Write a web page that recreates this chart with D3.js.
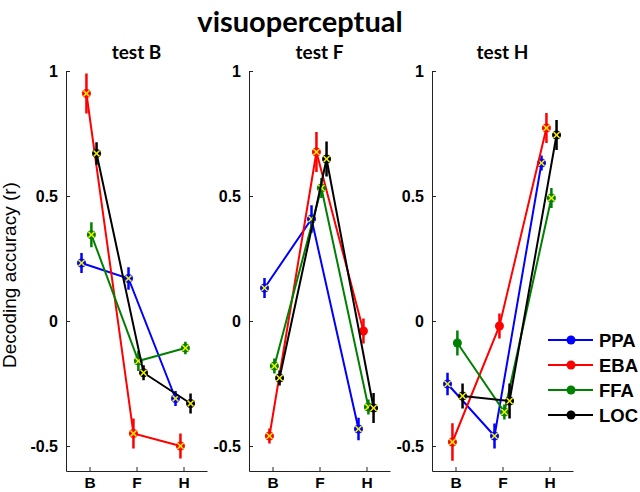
<!DOCTYPE html>
<html><head><meta charset="utf-8">
<script src="https://cdn.jsdelivr.net/npm/d3@7"></script>
<style>body{margin:0;background:#fff}</style>
</head><body><svg id="c" width="640" height="492"></svg>
<script>
const chartTitle = "visuoperceptual";
const yLabel = "Decoding accuracy (r)";
const conditions = ["B", "F", "H"];
const panelTitles = ["test B", "test F", "test H"];
const regions = ["PPA", "EBA", "FFA", "LOC"];
const yTicks = [-0.5, 0, 0.5, 1];

// rows: PPA, EBA, FFA, LOC ; columns: B, F, H
const meanTestB = [[0.232, 0.17, -0.31], [0.91, -0.45, -0.50], [0.345, -0.16, -0.108], [0.67, -0.207, -0.33]];
const errTestB  = [[0.04, 0.045, 0.03], [0.08, 0.06, 0.05], [0.05, 0.04, 0.025], [0.045, 0.03, 0.04]];
const sigTestB  = [[1, 1, 1], [1, 1, 1], [1, 1, 1], [1, 1, 1]];

const meanTestF = [[0.132, 0.408, -0.432], [-0.46, 0.676, -0.04], [-0.18, 0.532, -0.344], [-0.228, 0.648, -0.348]];
const errTestF  = [[0.04, 0.055, 0.045], [0.03, 0.08, 0.05], [0.03, 0.04, 0.03], [0.03, 0.07, 0.06]];
const sigTestF  = [[1, 1, 1], [1, 1, 0], [1, 1, 1], [1, 1, 1]];

const meanTestH = [[-0.252, -0.46, 0.632], [-0.484, -0.02, 0.772], [-0.088, -0.364, 0.492], [-0.30, -0.32, 0.744]];
const errTestH  = [[0.045, 0.05, 0.03], [0.075, 0.05, 0.06], [0.05, 0.03, 0.04], [0.05, 0.07, 0.06]];
const sigTestH  = [[1, 1, 1], [1, 0, 1], [0, 1, 1], [1, 1, 1]];

const means = [meanTestB, meanTestF, meanTestH];
const errs = [errTestB, errTestF, errTestH];
const sigs = [sigTestB, sigTestF, sigTestH];

const colors = ["#0000ff", "#ff0000", "#008000", "#000000"];
const jitter = [-0.17, -0.065, 0.04, 0.15];

const svg = d3.select("#c");
const tickFont = "'Liberation Sans', Arial, sans-serif";
const titleFont = "Lato, 'Open Sans', sans-serif";

svg.append("text").attr("x", 300).attr("y", 32).attr("text-anchor", "middle")
  .style("font-family", titleFont).style("font-weight", "bold").style("font-size", "29px")
  .text(chartTitle);

svg.append("text").attr("transform", "translate(16,275) rotate(-90)").attr("text-anchor", "middle")
  .style("font-family", tickFont).style("font-size", "19px").text(yLabel);

const y = d3.scaleLinear().domain([-0.6, 1]).range([471, 71]);
const panelLefts = [66, 249, 432];
const panelWidth = 141;

panelLefts.forEach((left, p) => {
  const x = d3.scaleLinear().domain([0.5, 3.5]).range([left, left + panelWidth]);
  const g = svg.append("g");

  g.append("text").attr("x", left + panelWidth / 2).attr("y", 59).attr("text-anchor", "middle")
    .style("font-family", titleFont).style("font-weight", "bold").style("font-size", "19px")
    .text(panelTitles[p]);

  const ya = g.append("g").attr("transform", `translate(${left},0)`)
    .call(d3.axisLeft(y).tickValues(yTicks).tickFormat(d => String(d)).tickSizeInner(-4).tickSizeOuter(0).tickPadding(8));
  const xa = g.append("g").attr("transform", `translate(0,471)`)
    .call(d3.axisBottom(x).tickValues([1, 2, 3]).tickFormat(i => conditions[i - 1]).tickSizeInner(-4).tickSizeOuter(0).tickPadding(6));
  [ya, xa].forEach(a => {
    a.selectAll("path,line").attr("stroke", "#222");
    a.selectAll("text").style("font-family", tickFont).style("font-weight", "bold").style("font-size", "16px").attr("fill", "#000");
  });
  xa.selectAll("text").style("font-size", "15.5px");

  regions.forEach((r, s) => {
    const pts = conditions.map((c, i) => ({
      x: x(i + 1 + jitter[s]), m: means[p][s][i], e: errs[p][s][i], sig: sigs[p][s][i]
    }));
    const sg = g.append("g");
    sg.append("path").datum(pts)
      .attr("d", d3.line().x(d => d.x).y(d => y(d.m)))
      .attr("fill", "none").attr("stroke", colors[s]).attr("stroke-width", 2);
    sg.selectAll(".eb").data(pts).join("line")
      .attr("x1", d => d.x).attr("x2", d => d.x)
      .attr("y1", d => y(d.m + d.e)).attr("y2", d => y(d.m - d.e))
      .attr("stroke", colors[s]).attr("stroke-width", 2.5);
    sg.selectAll(".mk").data(pts).join("circle")
      .attr("cx", d => d.x).attr("cy", d => y(d.m)).attr("r", 4.5).attr("fill", colors[s]);
    const xs = sg.selectAll(".xm").data(pts.filter(d => d.sig)).join("g")
      .attr("transform", d => `translate(${d.x},${y(d.m)})`);
    xs.append("line").attr("x1", -3).attr("y1", -3).attr("x2", 3).attr("y2", 3);
    xs.append("line").attr("x1", -3).attr("y1", 3).attr("x2", 3).attr("y2", -3);
    xs.selectAll("line").attr("stroke", "#f0f000").attr("stroke-width", 1.6);
  });
});

// legend
const lg = svg.append("g");
regions.forEach((r, s) => {
  const ly = 340 + s * 25;
  lg.append("line").attr("x1", 548).attr("x2", 593).attr("y1", ly).attr("y2", ly)
    .attr("stroke", colors[s]).attr("stroke-width", 2);
  lg.append("circle").attr("cx", 571).attr("cy", ly).attr("r", 4.5).attr("fill", colors[s]);
  lg.append("text").attr("x", 599).attr("y", ly).attr("dy", "0.36em")
    .style("font-family", tickFont).style("font-weight", "bold").style("font-size", "18.5px").text(r);
});
</script></body></html>
